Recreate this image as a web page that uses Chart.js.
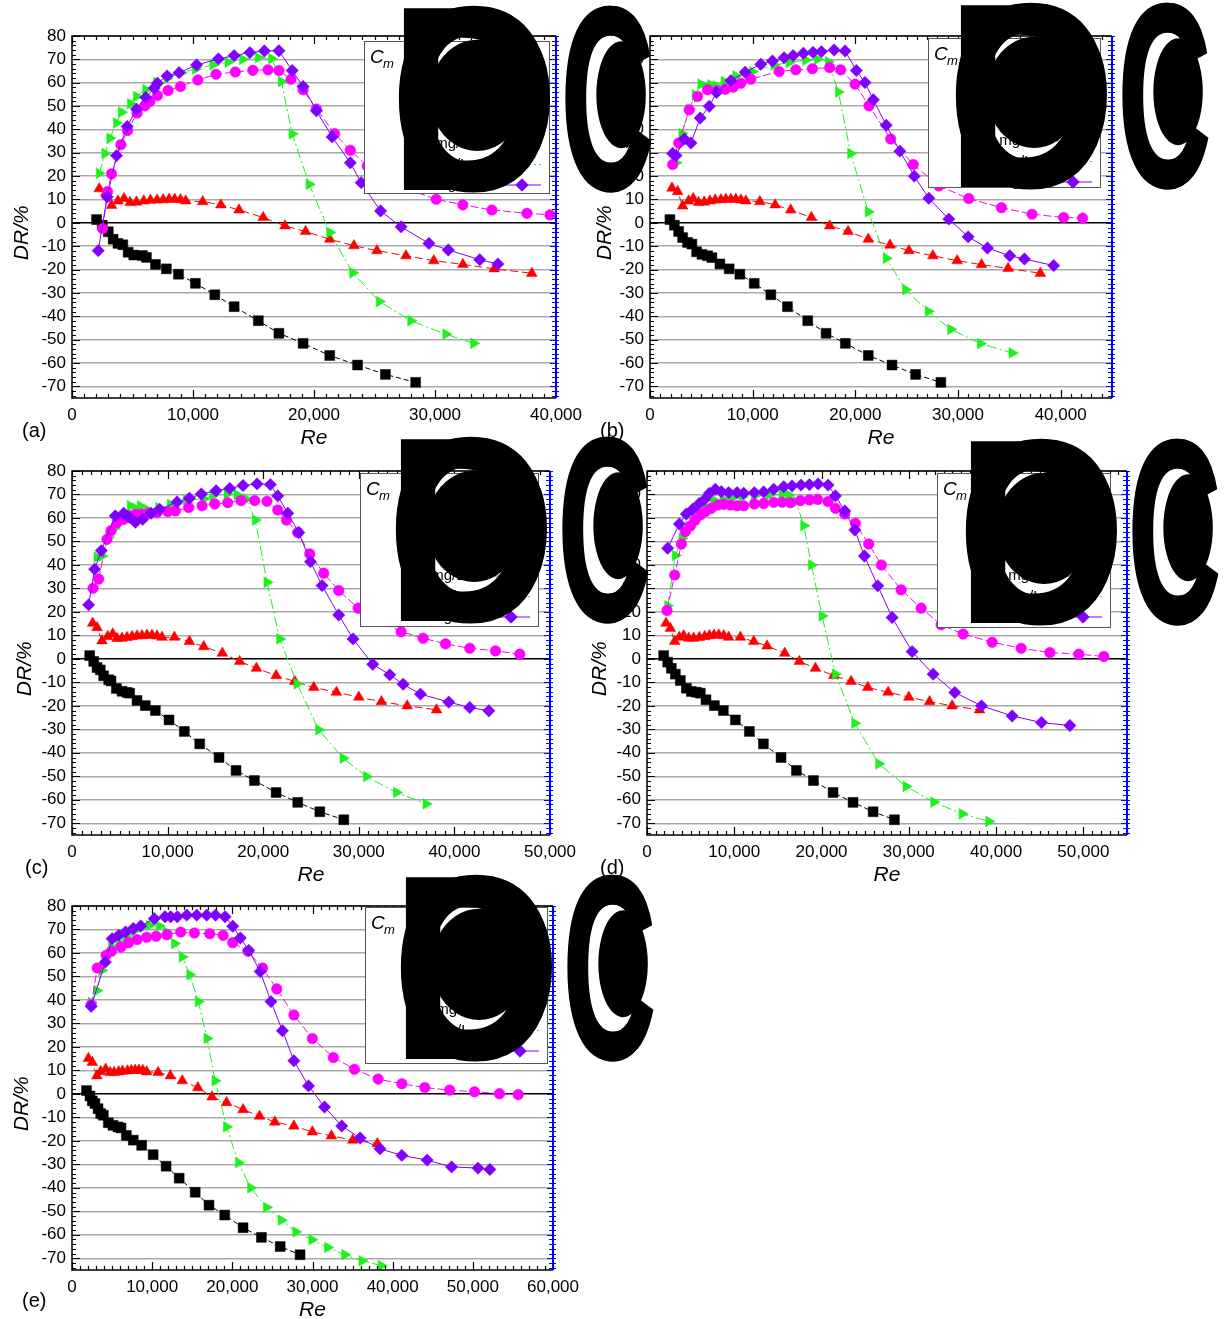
<!DOCTYPE html>
<html>
<head>
<meta charset="utf-8">
<script src="https://cdn.jsdelivr.net/npm/chart.js@4.4.1/dist/chart.umd.min.js"></script>
<style>
  body { margin: 0; background: #fff; width: 1230px; height: 1319px; position: relative; overflow: hidden; }
  canvas.panel { position: absolute; }
  #over { position: absolute; left: 0; top: 0; pointer-events: none; }
</style>
</head>
<body>
<canvas class="panel" id="ca"></canvas>
<canvas class="panel" id="cb"></canvas>
<canvas class="panel" id="cc"></canvas>
<canvas class="panel" id="cd"></canvas>
<canvas class="panel" id="ce"></canvas>
<canvas id="over" width="1230" height="1319"></canvas>
<script>
// ---- tick labels ----
const Y_TICKS = [-70, -60, -50, -40, -30, -20, -10, 0, 10, 20, 30, 40, 50, 60, 70, 80];
const X_TICKS_40K = [0, 10000, 20000, 30000, 40000];
const X_TICKS_50K = [0, 10000, 20000, 30000, 40000, 50000];
const X_TICKS_60K = [0, 10000, 20000, 30000, 40000, 50000, 60000];
const LEGEND_LABELS = ['0 mg/L', '100 mg/L', '200 mg/L', '300 mg/L', '400 mg/L'];

// ---- (a) ----
const A_SQ_RE = [2030, 2500, 3000, 3400, 3800, 4200, 4640, 5100, 5820, 6150, 6900, 7800, 8800, 10200, 11800, 13400, 15400, 17100, 19100, 21300, 23600, 25900, 28400];
const A_SQ_DR = [1.4, -1, -3.8, -7, -8.8, -9.4, -12.6, -13.8, -14, -14.8, -17.8, -19.7, -22, -25.9, -30.8, -35.9, -41.9, -47.3, -51.6, -56.8, -60.9, -64.9, -68.3];
const A_TR_RE = [2250, 2800, 3270, 3800, 4300, 4800, 5330, 5930, 6480, 7030, 7530, 8020, 8490, 8960, 9400, 10800, 12300, 13800, 15800, 17600, 19300, 21300, 23300, 25200, 27600, 29900, 32300, 34900, 38000];
const A_TR_DR = [14.6, 12.9, 7.5, 9.4, 10.4, 8.7, 8.9, 9.4, 9.7, 9.8, 9.9, 10.1, 10.1, 9.9, 9.4, 9.1, 7.7, 5.5, 2.3, -1.3, -3.7, -7, -9.8, -11.9, -14.1, -16.2, -17.8, -19.7, -21.6];
const A_RT_RE = [2250, 2720, 3130, 3680, 4090, 4840, 5330, 6100, 6980, 7860, 9040, 10200, 11650, 12900, 14100, 15400, 16500, 17300, 18200, 19600, 21300, 23200, 25400, 28000, 30900, 33200];
const A_RT_DR = [21.2, 29.7, 36.2, 42.8, 47.4, 51, 54.1, 57, 60.1, 61.9, 64.3, 65.8, 67.6, 68.8, 70, 70.7, 70.3, 60.5, 38.1, 16.5, -4.1, -21.4, -33.7, -41.9, -47.7, -51.6];
const A_CI_RE = [2530, 2940, 3270, 4040, 4590, 5380, 6020, 6430, 7060, 7940, 8960, 10400, 11900, 13500, 14950, 16200, 17100, 18100, 19100, 20200, 21700, 23000, 24400, 27100, 30100, 32300, 34700, 37600, 39500];
const A_CI_DR = [-2.4, 13.4, 21, 33.5, 39.5, 47, 50.1, 52, 54.5, 56.7, 58.4, 61.2, 63.6, 64.6, 65.3, 65.5, 65.2, 61.5, 57, 48.7, 38.2, 31.1, 24.3, 15.5, 10.1, 7.7, 5.5, 4.1, 3.4];
const A_DI_RE = [2170, 2910, 3680, 4560, 5330, 6100, 6790, 7060, 7860, 8850, 10300, 12100, 13400, 14700, 15900, 17100, 18200, 19100, 20200, 21500, 23000, 23900, 25500, 27200, 29500, 31100, 33700, 35200];
const A_DI_DR = [-11.9, 11.1, 28.8, 41.3, 48.7, 53.7, 57.7, 59.8, 62.9, 64.3, 67.6, 70.2, 71.6, 72.9, 73.6, 73.7, 65.2, 58.4, 48, 36.8, 25.7, 17.2, 5.1, -1.7, -8.8, -11.6, -15.8, -17.6];

// ---- (b) ----
const B_SQ_RE = [1940, 2370, 2790, 3180, 3660, 4080, 4540, 5060, 5610, 6030, 6810, 7710, 8750, 10150, 11770, 13390, 15360, 17150, 19030, 21260, 23570, 25870, 28330];
const B_SQ_DR = [1.4, -1, -3.7, -6.3, -8.4, -9.1, -12.4, -13.5, -14.1, -14.9, -17.6, -19.7, -22, -25.9, -30.8, -35.9, -41.9, -47.3, -51.6, -56.8, -60.9, -64.9, -68.3];
const B_TR_RE = [2140, 2690, 3180, 3760, 4210, 4730, 5280, 5830, 6350, 6900, 7390, 7880, 8360, 8850, 9340, 10700, 12190, 13710, 15720, 17500, 19290, 21260, 23370, 25220, 27550, 29920, 32290, 34880, 38020];
const B_TR_DR = [14.9, 13.4, 7.2, 9.4, 10.4, 8.7, 8.9, 9.4, 9.8, 9.9, 10.1, 10.1, 10.1, 9.8, 9.4, 9.1, 7.7, 5.5, 2.3, -1.3, -3.7, -7, -9.5, -11.9, -14.1, -16.2, -17.9, -19.5, -21.6];
const B_RT_RE = [2530, 3110, 3820, 4410, 4960, 5450, 5930, 6420, 7230, 8360, 9980, 12090, 13550, 15170, 16300, 17370, 18350, 19550, 21260, 23010, 24900, 27100, 29300, 32190, 35270];
const B_RT_DR = [25.7, 38.2, 48.7, 54.8, 59.4, 58.4, 59.1, 58.7, 60.5, 62.9, 64.8, 67.6, 68.6, 69.7, 70, 69, 56, 29.7, 4.7, -15.2, -28.6, -37.9, -45.6, -51.7, -55.7];
const B_CI_RE = [2200, 2790, 3820, 4640, 5610, 6500, 7330, 8100, 8850, 9820, 12580, 14200, 15820, 17500, 18570, 19970, 21330, 23440, 25640, 28140, 31050, 34230, 37210, 40290, 42140];
const B_CI_DR = [25, 34.2, 48.4, 54.1, 57, 56.5, 57.2, 58.1, 59.8, 61.5, 64.8, 65.5, 66, 66.5, 65.5, 59.4, 50.1, 35.9, 25, 15.8, 10.4, 6.5, 3.7, 2.3, 2];
const B_DI_RE = [2200, 2530, 3340, 3990, 4890, 5770, 6480, 7880, 9270, 10790, 11930, 13060, 13940, 14940, 15880, 16690, 17930, 19000, 20100, 20940, 21750, 23010, 24340, 25740, 27160, 29110, 30990, 32870, 35040, 36470, 39320];
const B_DI_DR = [29.7, 28.8, 35.9, 34.2, 44.9, 49.9, 55.8, 60.9, 64.5, 67.9, 69.3, 70.7, 71.6, 72.6, 73, 73.3, 74, 73.6, 65.2, 60.1, 52.7, 41.8, 30.7, 20, 10.5, 1.6, -6, -10.8, -14.1, -15.5, -18.3];

// ---- (c) ----
const C_SQ_RE = [1850, 2270, 2620, 2960, 3310, 3840, 4080, 4640, 5230, 5760, 6030, 6800, 7670, 8720, 10150, 11750, 13360, 15380, 17160, 19080, 21350, 23610, 25920, 28430];
const C_SQ_DR = [1.4, -1.1, -3.7, -4.7, -7.2, -8.9, -9.4, -12.6, -13.8, -14.3, -14.6, -17.7, -19.9, -22, -26, -30.9, -36.2, -42, -47.5, -51.8, -56.9, -61.1, -65.1, -68.5];
const C_TR_RE = [2160, 2620, 3140, 3730, 4260, 4710, 5230, 5760, 6280, 6800, 7320, 7850, 8370, 8890, 9420, 10710, 12280, 13780, 15730, 17540, 19290, 21350, 23300, 25290, 27660, 30000, 32370, 35060, 38130];
const C_TR_DR = [15.2, 13.3, 7.7, 9.5, 10.6, 8.7, 8.8, 9.1, 9.5, 9.8, 9.9, 10.1, 10.1, 9.8, 9.2, 9.2, 7.4, 5.2, 2.4, -1.1, -4, -7.1, -9.6, -12.2, -14.2, -16.3, -18.2, -20, -21.7];
const C_RT_RE = [2620, 3140, 3840, 4430, 5060, 5650, 6100, 6630, 7150, 7920, 9070, 10290, 11960, 13780, 14750, 16220, 17270, 18210, 19180, 20400, 21730, 23540, 25810, 28360, 30800, 33940, 37040];
const C_RT_DR = [43.3, 43.8, 51.8, 55.6, 58.7, 61.3, 65.2, 64.1, 65.1, 63.4, 64.4, 65.8, 67.7, 68.1, 69.6, 70.2, 69.9, 68.1, 59.1, 32.6, 8.5, -10.6, -30.2, -42.3, -50.1, -56.9, -61.7];
const C_CI_RE = [2200, 2790, 3660, 4080, 4710, 5410, 6030, 6630, 7320, 8020, 8890, 10010, 10810, 12210, 13600, 14930, 16290, 17680, 19110, 20400, 21520, 22430, 23610, 24870, 26330, 27900, 29930, 32000, 34430, 36730, 39070, 41610, 44300, 46840];
const C_CI_DR = [30.1, 34, 50.9, 54.6, 58, 59.4, 60.9, 61.6, 61.7, 62, 62.3, 62.7, 63, 64.5, 65.2, 66, 66.5, 67.4, 67.4, 67.1, 63.4, 59.1, 53.8, 44.7, 36.5, 29.1, 21.6, 16.5, 11.6, 8.8, 6.4, 4.5, 3.4, 2];
const C_DI_RE = [1740, 2370, 3070, 4530, 5410, 6000, 6630, 7390, 8270, 9170, 10990, 12280, 13530, 15070, 16500, 17890, 19360, 20750, 21520, 22570, 23720, 24940, 26160, 27900, 29400, 31460, 33240, 34640, 36450, 39410, 41610, 43600];
const C_DI_DR = [23, 38.2, 46.1, 60.9, 62, 60.3, 58.2, 59.4, 62, 63.7, 66.8, 68.4, 70.2, 71.6, 72.6, 73.8, 74.5, 74.2, 69.4, 62, 53.8, 41.4, 31.2, 18.7, 8.5, -2.3, -6.8, -10.8, -15, -18.4, -20.7, -22.1];

// ---- (d) ----
const D_SQ_RE = [1910, 2370, 2790, 3250, 3820, 4510, 5080, 5660, 6110, 6760, 7720, 8750, 10130, 11730, 13340, 15360, 17120, 19070, 21320, 23610, 25910, 28350];
const D_SQ_DR = [1.4, -1.4, -4, -6.5, -9.2, -12.5, -13.9, -14.2, -14.6, -17.4, -19.9, -22, -26, -30.9, -36.2, -42, -47.5, -51.8, -56.9, -61.1, -65.1, -68.5];
const D_TR_RE = [2180, 2670, 3170, 3700, 4200, 4780, 5350, 6000, 6610, 7150, 7680, 8220, 8790, 9360, 10700, 12230, 13760, 15780, 17460, 19300, 21400, 23390, 25300, 27630, 30000, 32370, 34960, 38100];
const D_TR_DR = [15.2, 13, 7.4, 9.2, 9.9, 8.8, 8.8, 9.1, 9.5, 9.9, 10.1, 10.2, 9.9, 9.2, 9.2, 7.4, 5.5, 2.4, -1.1, -4, -7.1, -9.6, -12.2, -14.2, -16.3, -18.2, -20, -21.7];
const D_RT_RE = [2370, 3250, 4010, 4780, 5460, 6110, 6760, 7640, 8700, 9800, 10900, 12300, 13950, 15480, 16240, 17080, 17960, 18840, 20060, 21590, 23810, 26560, 29690, 32860, 36110, 39170];
const D_RT_DR = [22.6, 44, 51.3, 56.3, 59.9, 62, 64.5, 67.7, 68.1, 68.6, 69, 69.4, 69.8, 70.1, 69.8, 67, 56.7, 40, 18.3, -6.5, -27.4, -44.7, -54.3, -61, -66, -69.2];
const D_CI_RE = [2290, 3170, 3940, 4390, 4970, 5500, 6110, 6690, 7370, 8100, 8790, 9550, 10320, 11080, 12300, 13370, 14520, 15480, 16430, 17580, 18610, 19560, 20750, 21590, 22660, 23880, 25410, 26860, 29120, 31410, 33700, 36220, 39550, 42870, 46160, 49480, 52350];
const D_CI_DR = [20.6, 35.7, 48.9, 54.2, 56.6, 59, 61.3, 62.7, 64.1, 65.5, 65.8, 65.5, 65.2, 65.2, 66, 66.2, 66.7, 66.7, 66.5, 67.4, 67.7, 67.9, 67, 64.1, 61.7, 57.7, 48.9, 40, 29.4, 21.6, 14.5, 10.6, 7.1, 4.5, 2.7, 2, 1];
const D_DI_RE = [2370, 3710, 4510, 5230, 5990, 6610, 7150, 7830, 8520, 9360, 10320, 11080, 12300, 13370, 14520, 15670, 16620, 17650, 18610, 19600, 20750, 21590, 22660, 23810, 24910, 26440, 28090, 30380, 32790, 35270, 38330, 41840, 45200, 48450];
const D_DI_DR = [47.1, 57.4, 61.7, 63.7, 66.2, 67.9, 70.5, 72.2, 71.2, 70.8, 70.8, 70.5, 70.8, 71.1, 72.2, 73.3, 73.6, 74, 74.2, 74.5, 74, 69.4, 63, 54.9, 43.8, 31.1, 17.6, 3.1, -6.5, -14.3, -20, -24.3, -27.1, -28.4];

// ---- (e) ----
const E_SQ_RE = [1810, 2240, 2530, 2860, 3250, 3580, 3910, 4530, 5110, 5730, 6110, 6780, 7640, 8690, 10120, 11740, 13370, 15370, 17090, 19050, 21340, 23630, 25970, 28450];
const E_SQ_DR = [1.4, -0.9, -3, -4.1, -6.3, -8.4, -9.1, -12.3, -13.4, -14.1, -14.5, -17.7, -19.7, -21.9, -25.9, -30.8, -35.9, -41.9, -47.4, -51.6, -57, -61.1, -65, -68.5];
const E_TR_RE = [2050, 2530, 3100, 3580, 4200, 4770, 5250, 5820, 6300, 6920, 7400, 7880, 8350, 8830, 9310, 10740, 12270, 13750, 15700, 17470, 19280, 21340, 23390, 25300, 27680, 29980, 32360, 35030, 38090];
const E_TR_DR = [15.1, 13.4, 7.7, 9.5, 10.5, 9.1, 9.1, 9.4, 9.7, 9.8, 10, 10.1, 10.1, 10, 9.4, 9.1, 7.7, 5.6, 2.6, -1.3, -3.7, -6.7, -9.5, -12, -13.7, -16.2, -17.9, -19.7, -21.2];
const E_RT_RE = [2390, 3100, 3720, 4920, 5820, 6680, 7640, 8690, 9640, 10880, 11790, 12790, 13750, 14700, 15750, 16850, 17850, 19280, 20760, 22290, 24250, 26110, 27920, 29930, 31890, 34030, 36180, 38570];
const E_RT_DR = [39, 44, 52.6, 62.5, 64.4, 66.8, 69.2, 71.1, 71.8, 71.5, 68.9, 64, 58.3, 50.7, 39.3, 23.6, 5.6, -14, -29.3, -40, -48.3, -53.8, -58.8, -62.1, -65.4, -68.5, -71.1, -73.1];
const E_CI_RE = [2390, 3150, 4250, 4920, 6110, 7060, 8110, 9310, 10500, 11840, 13560, 15270, 17180, 18850, 20050, 21960, 23770, 25540, 27680, 29980, 32600, 35230, 38190, 41150, 44010, 47110, 50210, 53320, 55660];
const E_CI_DR = [37.9, 53.6, 59, 60.7, 62.5, 64.4, 65.7, 66.7, 67.1, 67.8, 68.9, 68.5, 68.2, 67.5, 64.4, 60.7, 53.6, 44.7, 33.6, 23.6, 15.5, 10.5, 6.3, 4.3, 2.7, 1.6, 0.9, 0.1, -0.3];
const E_DI_RE = [2390, 4150, 5010, 5820, 6680, 7640, 8590, 10260, 11600, 12310, 13130, 14320, 15560, 16800, 17900, 19090, 20050, 21000, 22050, 23480, 24820, 26250, 27680, 29500, 31500, 33650, 35940, 38420, 41150, 44300, 47350, 50640, 52120];
const E_DI_DR = [37.3, 56.1, 66.1, 67.5, 68.9, 70.4, 71.5, 74.6, 75.4, 75.4, 75.4, 76.1, 76.1, 76.1, 76.1, 75.4, 71.4, 66.4, 61.1, 52.1, 39.3, 26.9, 14.1, 3.4, -5.6, -13.7, -18.8, -23.4, -26.2, -28.2, -31.1, -31.6, -32.2];

const FONT = '"Liberation Sans", Arial, sans-serif';

// marker / line style for each series (legend order)
const STYLES = [
  { color: '#000000', pointStyle: 'rect', radius: 7, rotation: 0, dash: [5, 3] },
  { color: '#ff0000', pointStyle: 'triangle', radius: 6.2, rotation: 0, dash: [8, 4] },
  { color: '#ff00ff', pointStyle: 'circle', radius: 5.3, rotation: 0, dash: [8, 3] },
  { color: '#1ef01e', pointStyle: 'triangle', radius: 6.2, rotation: 90, dash: [10, 3, 2, 3] },
  { color: '#7f00ff', pointStyle: 'rectRot', radius: 6.2, rotation: 0, dash: [] },
];
// drawing order: purple on top
const DRAW_ORDER = [4, 2, 3, 1, 0];

const PANELS = [
  { id: 'ca', tag: '(a)', area: [72, 36, 556, 398], xmax: 40000, xticks: X_TICKS_40K, titlePad: 10,
    tagPos: [22, 431], legend: [364, 41, 549, 193], blob: [388, 190],
    series: [[A_SQ_RE, A_SQ_DR], [A_TR_RE, A_TR_DR], [A_CI_RE, A_CI_DR], [A_RT_RE, A_RT_DR], [A_DI_RE, A_DI_DR]] },
  { id: 'cb', tag: '(b)', area: [650, 36, 1112, 398], xmax: 45000, xticks: X_TICKS_40K, titlePad: 15,
    tagPos: [600, 431], legend: [928, 38, 1100, 187], blob: [945, 187],
    series: [[B_SQ_RE, B_SQ_DR], [B_TR_RE, B_TR_DR], [B_CI_RE, B_CI_DR], [B_RT_RE, B_RT_DR], [B_DI_RE, B_DI_DR]] },
  { id: 'cc', tag: '(c)', area: [72, 471, 550, 835], xmax: 50000, xticks: X_TICKS_50K, titlePad: 13,
    tagPos: [25, 868], legend: [360, 473, 538, 626], blob: [385, 621],
    series: [[C_SQ_RE, C_SQ_DR], [C_TR_RE, C_TR_DR], [C_CI_RE, C_CI_DR], [C_RT_RE, C_RT_DR], [C_DI_RE, C_DI_DR]] },
  { id: 'cd', tag: '(d)', area: [647, 471, 1127, 835], xmax: 55000, xticks: X_TICKS_50K, titlePad: 13,
    tagPos: [600, 868], legend: [937, 473, 1110, 627], blob: [955, 623],
    series: [[D_SQ_RE, D_SQ_DR], [D_TR_RE, D_TR_DR], [D_CI_RE, D_CI_DR], [D_RT_RE, D_RT_DR], [D_DI_RE, D_DI_DR]] },
  { id: 'ce', tag: '(e)', area: [72, 906, 553, 1270], xmax: 60000, xticks: X_TICKS_60K, titlePad: 10,
    tagPos: [22, 1301], legend: [365, 907, 547, 1063], blob: [390, 1059],
    series: [[E_SQ_RE, E_SQ_DR], [E_TR_RE, E_TR_DR], [E_CI_RE, E_CI_DR], [E_RT_RE, E_RT_DR], [E_DI_RE, E_DI_DR]] },
];

const PAD_L = 72, PAD_T = 36, PAD_R = 40, PAD_B = 60;

// frame, inside ticks, blue right axis, legend and panel tag
const framePlugin = {
  id: 'frame',
  afterDatasetsDraw(chart, args, opts) {
    const { ctx, chartArea: { left, top, right, bottom }, scales: { x, y } } = chart;
    const p = opts.panel;
    ctx.save();
    ctx.lineWidth = 1.2;
    ctx.strokeStyle = '#000';
    ctx.beginPath();
    for (let v = 0; v <= x.max; v += 1000) {
      const px = Math.round(x.getPixelForValue(v)) + 0.5;
      const len = v % 10000 === 0 ? 8 : 4;
      ctx.moveTo(px, bottom); ctx.lineTo(px, bottom - len);
      ctx.moveTo(px, top); ctx.lineTo(px, top + len);
    }
    for (let v = -74; v <= 80; v += 2) {
      const py = Math.round(y.getPixelForValue(v)) + 0.5;
      const len = v % 10 === 0 ? 8 : 4;
      ctx.moveTo(left, py); ctx.lineTo(left + len, py);
    }
    ctx.stroke();
    ctx.strokeStyle = '#0000ff';
    ctx.beginPath();
    for (let v = -74; v <= 80; v += 2) {
      const py = Math.round(y.getPixelForValue(v)) + 0.5;
      const len = v % 10 === 0 ? 6 : 4;
      ctx.moveTo(right - len, py); ctx.lineTo(right + 3, py);
    }
    ctx.stroke();
    ctx.lineWidth = 2;
    ctx.beginPath();
    ctx.moveTo(right, top); ctx.lineTo(right, bottom);
    ctx.stroke();
    ctx.strokeStyle = '#000';
    ctx.lineWidth = 1.5;
    ctx.beginPath();
    ctx.moveTo(right, top); ctx.lineTo(left, top); ctx.lineTo(left, bottom); ctx.lineTo(right, bottom);
    ctx.stroke();

    // legend box
    const ox = p.area[0] - PAD_L, oy = p.area[1] - PAD_T;
    const [bx1, by1, bx2, by2] = p.legend.map((v, i) => v - (i % 2 ? oy : ox));
    ctx.fillStyle = '#fff';
    ctx.fillRect(bx1, by1, bx2 - bx1, by2 - by1);
    ctx.strokeStyle = '#555';
    ctx.lineWidth = 1;
    ctx.strokeRect(bx1 + 0.5, by1 + 0.5, bx2 - bx1, by2 - by1);
    ctx.fillStyle = '#000';
    ctx.textBaseline = 'alphabetic';
    ctx.font = 'italic 19px ' + FONT;
    ctx.fillText('C', bx1 + 6, by1 + 22);
    ctx.font = 'italic 13px ' + FONT;
    ctx.fillText('m', bx1 + 19, by1 + 27);
    STYLES.forEach((s, i) => {
      const yy = by1 + 62 + i * 20.5;
      ctx.fillStyle = '#000';
      ctx.font = '15px ' + FONT;
      ctx.textBaseline = 'middle';
      ctx.fillText(LEGEND_LABELS[i], bx1 + 42, yy);
      ctx.strokeStyle = s.color;
      ctx.lineWidth = 1;
      ctx.setLineDash(s.dash);
      ctx.beginPath();
      ctx.moveTo(bx2 - 46, yy); ctx.lineTo(bx2 - 8, yy);
      ctx.stroke();
      ctx.setLineDash([]);
      ctx.fillStyle = s.color;
      Chart.helpers.drawPoint(ctx, { pointStyle: s.pointStyle, rotation: s.rotation, radius: s.radius, borderWidth: 0.5 }, bx2 - 27, yy);
    });

    // panel tag
    ctx.fillStyle = '#000';
    ctx.font = '20px ' + FONT;
    ctx.textBaseline = 'middle';
    ctx.fillText(p.tag, p.tagPos[0] - ox, p.tagPos[1] - oy);
    ctx.restore();
  }
};

PANELS.forEach(p => {
  const [l, t, r, b] = p.area;
  const cv = document.getElementById(p.id);
  cv.width = r - l + PAD_L + PAD_R;
  cv.height = b - t + PAD_T + PAD_B;
  cv.style.left = (l - PAD_L) + 'px';
  cv.style.top = (t - PAD_T) + 'px';

  const datasets = DRAW_ORDER.map(k => {
    const s = STYLES[k];
    const [re, dr] = p.series[k];
    return {
      data: re.map((v, i) => ({ x: v, y: dr[i] })),
      showLine: true,
      borderColor: s.color,
      backgroundColor: s.color,
      borderWidth: 1,
      borderDash: s.dash,
      pointStyle: s.pointStyle,
      pointRotation: s.rotation,
      pointRadius: s.radius,
      pointBorderWidth: 0.5,
      pointBackgroundColor: s.color,
      pointBorderColor: s.color,
      tension: 0,
    };
  });

  new Chart(cv, {
    type: 'scatter',
    data: { datasets },
    options: {
      responsive: false,
      animation: false,
      layout: { padding: { left: 0, top: PAD_T, right: PAD_R, bottom: 0 } },
      plugins: { legend: { display: false }, tooltip: { enabled: false }, frame: { panel: p } },
      scales: {
        x: {
          type: 'linear', min: 0, max: p.xmax,
          afterBuildTicks: s => { s.ticks = p.xticks.map(v => ({ value: v })); },
          afterFit: s => { s.height = PAD_B; },
          ticks: { color: '#000', font: { family: FONT, size: 17 }, padding: 7, maxRotation: 0, autoSkip: false,
                   callback: v => v.toLocaleString('en-US') },
          grid: { display: false, drawTicks: false },
          border: { display: false },
          title: { display: true, text: 'Re', color: '#000', font: { family: FONT, size: 21, style: 'italic' },
                   padding: { top: 0, bottom: 7 } },
        },
        y: {
          min: -75, max: 80,
          afterBuildTicks: s => { s.ticks = Y_TICKS.map(v => ({ value: v })); },
          afterFit: s => { s.width = PAD_L; },
          ticks: { color: '#000', font: { family: FONT, size: 17 }, padding: 6 },
          grid: { drawTicks: false, lineWidth: 1.5,
                  color: c => (c.tick && c.tick.value === 0) ? '#000' : '#a9a9a9' },
          border: { display: false },
          // trailing spaces nudge the rotated title a little lower, as in the figure
          title: { display: true, text: 'DR/%\u2002\u2002\u2002', color: '#000', font: { family: FONT, size: 21, style: 'italic' },
                   padding: { top: p.titlePad, bottom: 0 } },
        },
      },
    },
    plugins: [framePlugin],
  });
});

// oversized overlapping glyphs sitting over the legend boxes
// letters: [glyph, x offset, squeezed width] on the baseline
const BLOB_GLYPHS = [['D', 0, 172], ['O', 2, 168], ['C', 172, 95], ['C', 175, 90]];
// filled dots inside the counters: [centre x, centre y above baseline, ink width, ink height]
const BLOB_DOTS = [[89, -95, 96, 112], [233, -95, 50, 108]];
const oc = document.getElementById('over').getContext('2d');
oc.fillStyle = '#000';
oc.textBaseline = 'alphabetic';
PANELS.forEach(p => {
  const [bx, by] = p.blob;
  oc.font = 'bold 264px ' + FONT;
  BLOB_GLYPHS.forEach(([g, off, w]) => {
    const gw = oc.measureText(g).width;
    oc.save();
    oc.translate(bx + off, by);
    oc.scale(w / gw, 1);
    oc.fillText(g, 0, 0);
    oc.restore();
  });
  oc.font = '200px "DejaVu Sans"';
  const m = oc.measureText('\u25CF');
  const iw = m.actualBoundingBoxLeft + m.actualBoundingBoxRight;
  const ih = m.actualBoundingBoxAscent + m.actualBoundingBoxDescent;
  BLOB_DOTS.forEach(([cx, cy, w, h]) => {
    oc.save();
    oc.translate(bx + cx, by + cy);
    oc.scale(w / iw, h / ih);
    oc.fillText('\u25CF', -(m.actualBoundingBoxRight - m.actualBoundingBoxLeft) / 2, (m.actualBoundingBoxAscent - m.actualBoundingBoxDescent) / 2);
    oc.restore();
  });
});
</script>
</body>
</html>
